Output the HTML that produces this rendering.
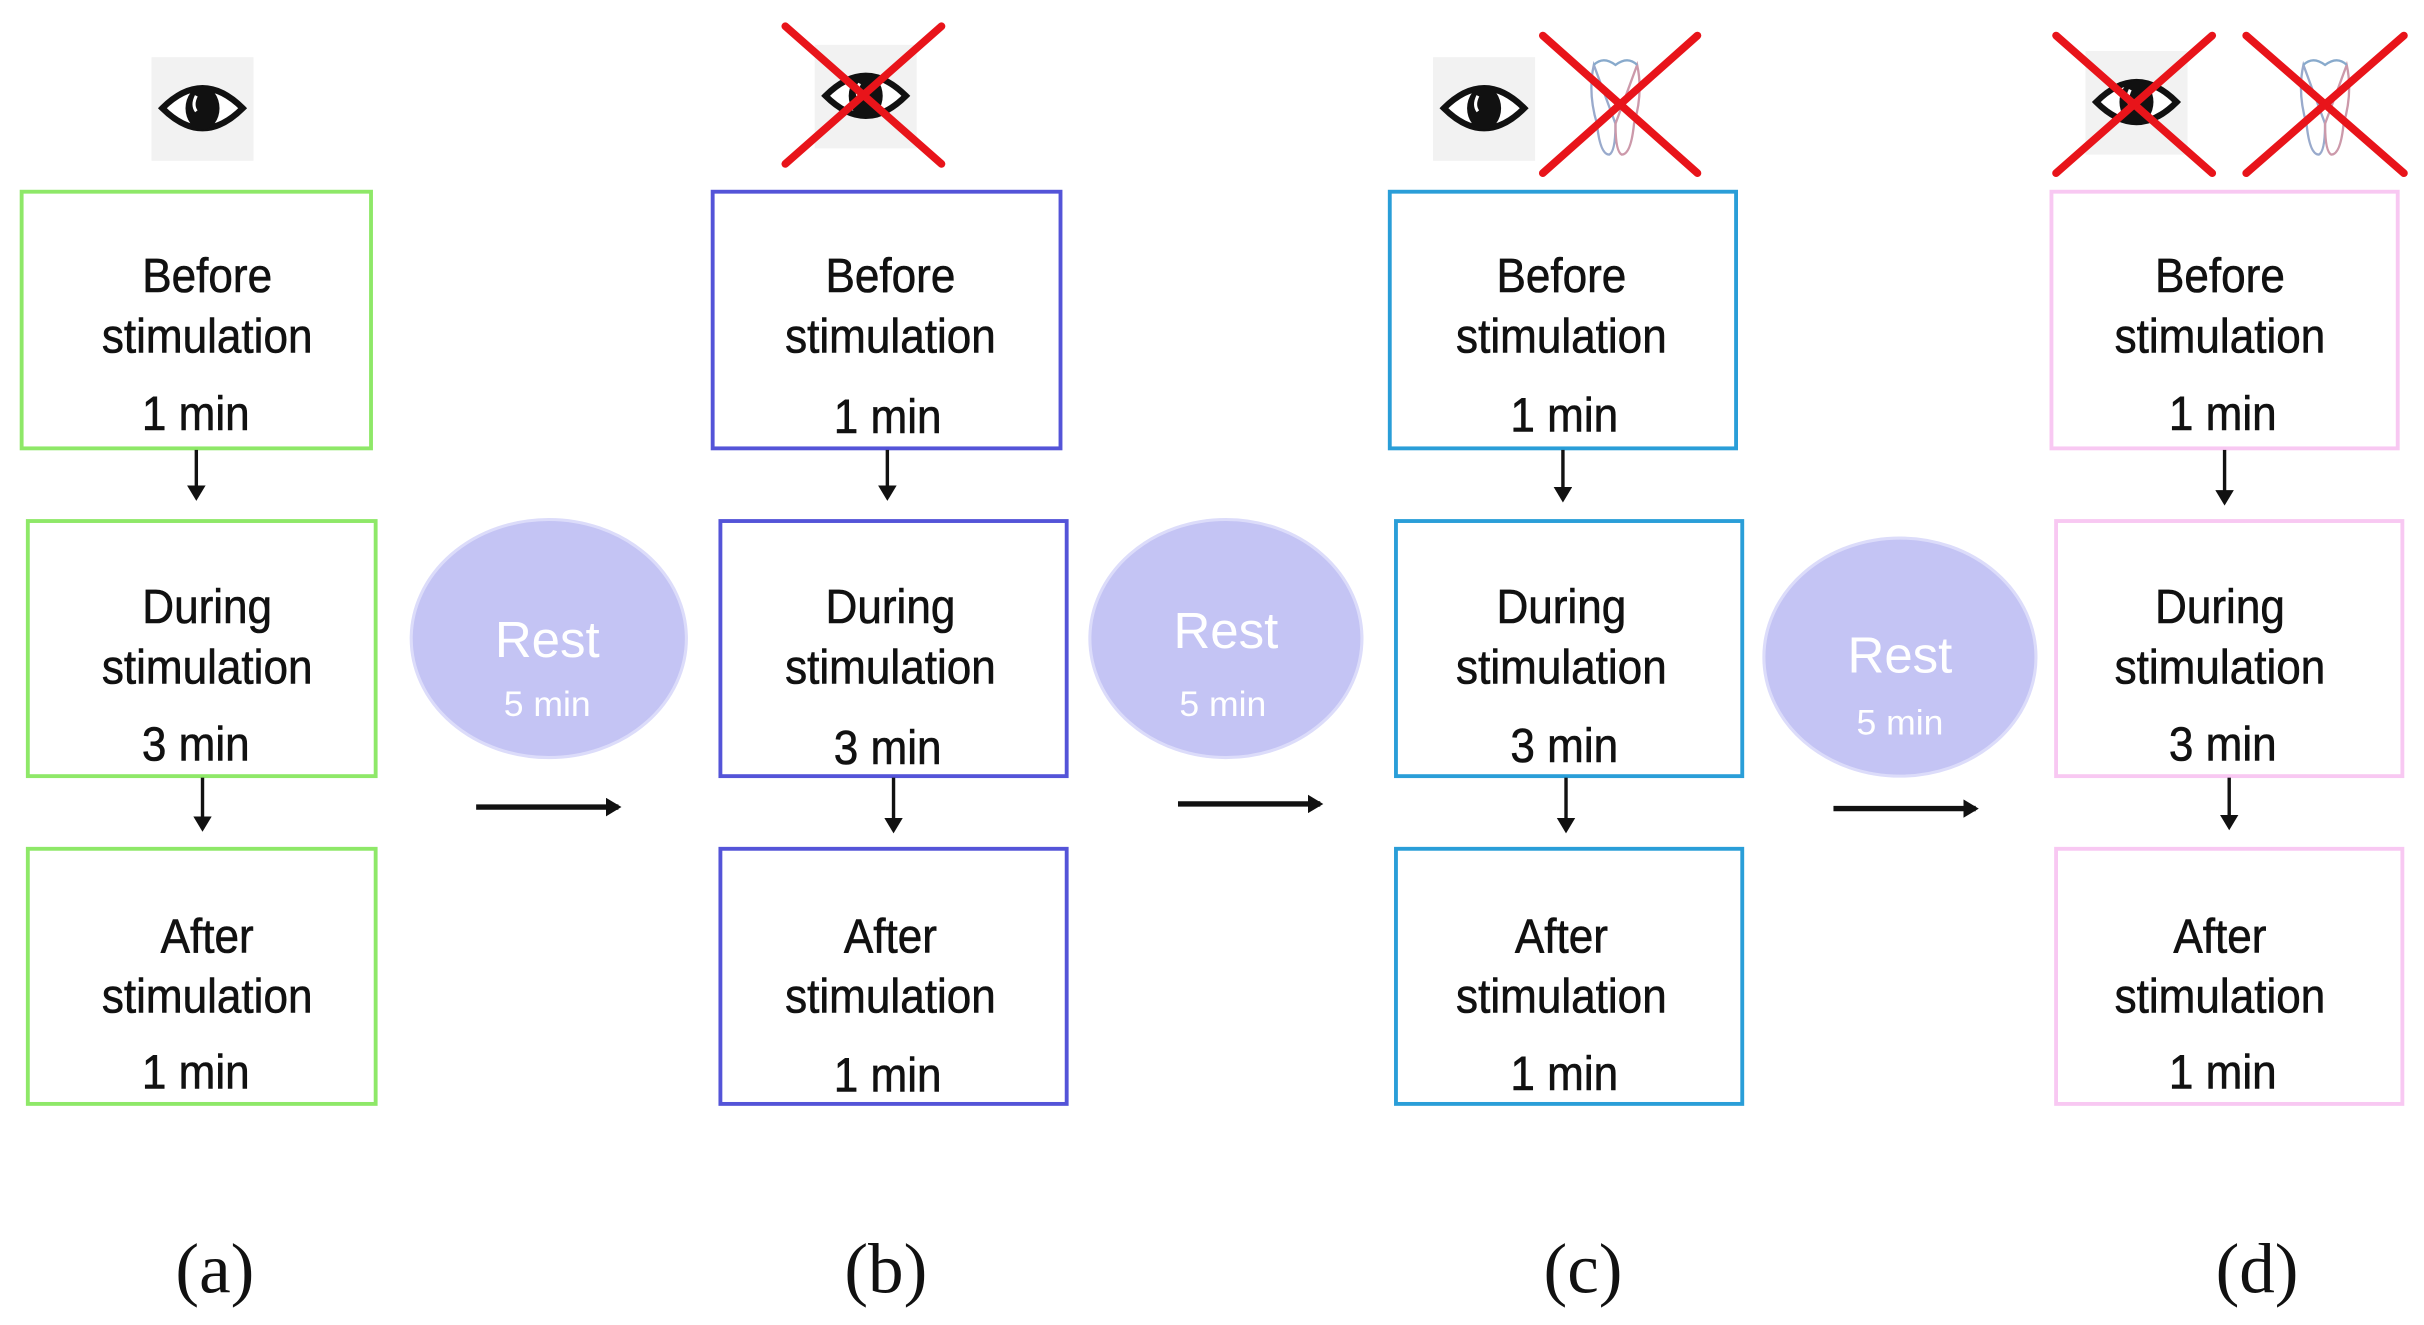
<!DOCTYPE html>
<html><head><meta charset="utf-8"><style>
html,body{margin:0;padding:0;background:#fff;}
svg{display:block}
.t{font-family:"Liberation Sans",Arial,sans-serif;font-size:31px;fill:#111;stroke:#111;stroke-width:0.4;text-anchor:middle}
.r{font-family:"Liberation Sans",Arial,sans-serif;fill:#fff;text-anchor:middle}
.l{font-family:"Liberation Serif","Times New Roman",serif;font-size:46px;fill:#111;text-anchor:middle}
</style></head><body>
<svg width="2424" height="1325" viewBox="0 0 1568 857" preserveAspectRatio="none" xmlns="http://www.w3.org/2000/svg">
<defs>
<marker id="ah" markerWidth="10" markerHeight="12" refX="8" refY="6" orient="auto" markerUnits="userSpaceOnUse">
<path d="M0,0 L10,6 L0,12 Z" fill="#111"/></marker>
<g id="eye">
<rect x="-33" y="-33" width="66" height="67" fill="#f2f2f2"/>
<path d="M-26,0 Q0,-26 26,0 Q0,26 -26,0 Z" fill="#fff" stroke="#111" stroke-width="4"/>
<ellipse cx="0" cy="0" rx="11" ry="14" fill="#111"/>
<path d="M-4,-8 Q-7,-2 -4,2" stroke="#fff" stroke-width="2" fill="none"/>
</g>
<g id="foot">
<path d="M-14,-28 Q-18,-10 -12,10 Q-10,30 -4,30 Q0,28 0,10 Z" fill="none" stroke="#9ac" stroke-width="1.5"/>
<path d="M14,-28 Q18,-10 12,10 Q10,30 4,30 Q0,28 0,10 Z" fill="none" stroke="#c9a" stroke-width="1.5"/>
<path d="M-14,-28 Q-8,-34 0,-28 Q8,-34 14,-28" fill="none" stroke="#8ac" stroke-width="1.5"/>
</g>
</defs>

<use href="#eye" x="131" y="70"/>
<use href="#eye" x="560" y="62"/>
<g stroke="#e8141a" stroke-width="5" stroke-linecap="round">
<line x1="508" y1="17" x2="609" y2="106"/><line x1="609" y1="17" x2="508" y2="106"/>
</g>
<use href="#eye" x="960" y="70"/>
<use href="#foot" x="1045" y="70"/>
<g stroke="#e8141a" stroke-width="5" stroke-linecap="round">
<line x1="998" y1="23" x2="1098" y2="112"/><line x1="1098" y1="23" x2="998" y2="112"/>
</g>
<use href="#eye" x="1382" y="66"/>
<use href="#foot" x="1504" y="70"/>
<g stroke="#e8141a" stroke-width="5" stroke-linecap="round">
<line x1="1330" y1="23" x2="1431" y2="112"/><line x1="1431" y1="23" x2="1330" y2="112"/>
<line x1="1453" y1="23" x2="1555" y2="112"/><line x1="1555" y1="23" x2="1453" y2="112"/>
</g>

<g fill="#fff" stroke-width="2.5">
<g stroke="#8ee868">
<rect x="14" y="124" width="226" height="166"/><rect x="18" y="337" width="225" height="165"/><rect x="18" y="549" width="225" height="165"/></g>
<g stroke="#5454d8">
<rect x="461" y="124" width="225" height="166"/><rect x="466" y="337" width="224" height="165"/><rect x="466" y="549" width="224" height="165"/></g>
<g stroke="#2a9ed8">
<rect x="899" y="124" width="224" height="166"/><rect x="903" y="337" width="224" height="165"/><rect x="903" y="549" width="224" height="165"/></g>
<g stroke="#f8c8f2">
<rect x="1327" y="124" width="224" height="166"/><rect x="1330" y="337" width="224" height="165"/><rect x="1330" y="549" width="224" height="165"/></g>
</g>

<g class="t">
<g transform="translate(134,0) scale(0.92,1)">
<text x="0" y="189">Before</text><text x="0" y="228">stimulation</text><text x="-8" y="278">1 min</text>
<text x="0" y="403">During</text><text x="0" y="442">stimulation</text><text x="-8" y="492">3 min</text>
<text x="0" y="616">After</text><text x="0" y="655">stimulation</text><text x="-8" y="704">1 min</text></g>
<g transform="translate(576,0) scale(0.92,1)">
<text x="0" y="189">Before</text><text x="0" y="228">stimulation</text><text x="-2" y="280">1 min</text>
<text x="0" y="403">During</text><text x="0" y="442">stimulation</text><text x="-2" y="494">3 min</text>
<text x="0" y="616">After</text><text x="0" y="655">stimulation</text><text x="-2" y="706">1 min</text></g>
<g transform="translate(1010,0) scale(0.92,1)">
<text x="0" y="189">Before</text><text x="0" y="228">stimulation</text><text x="2" y="279">1 min</text>
<text x="0" y="403">During</text><text x="0" y="442">stimulation</text><text x="2" y="493">3 min</text>
<text x="0" y="616">After</text><text x="0" y="655">stimulation</text><text x="2" y="705">1 min</text></g>
<g transform="translate(1436,0) scale(0.92,1)">
<text x="0" y="189">Before</text><text x="0" y="228">stimulation</text><text x="2" y="278">1 min</text>
<text x="0" y="403">During</text><text x="0" y="442">stimulation</text><text x="2" y="492">3 min</text>
<text x="0" y="616">After</text><text x="0" y="655">stimulation</text><text x="2" y="704">1 min</text></g>
</g>

<g stroke="#111" stroke-width="2.2" marker-end="url(#ah)">
<line x1="127" y1="291" x2="127" y2="322"/><line x1="131" y1="503" x2="131" y2="536"/>
<line x1="574" y1="291" x2="574" y2="322"/><line x1="578" y1="503" x2="578" y2="537"/>
<line x1="1011" y1="291" x2="1011" y2="323"/><line x1="1013" y1="503" x2="1013" y2="537"/>
<line x1="1439" y1="291" x2="1439" y2="325"/><line x1="1442" y1="503" x2="1442" y2="535"/>
</g>

<g fill="#c4c4f4" stroke="#dcdcfa" stroke-width="2">
<ellipse cx="355" cy="413" rx="89" ry="77"/>
<ellipse cx="793" cy="413" rx="88" ry="77"/>
<ellipse cx="1229" cy="425" rx="88" ry="77"/>
</g>
<g class="r">
<text x="354" y="425" font-size="33">Rest</text><text x="354" y="463" font-size="23">5 min</text>
<text x="793" y="419" font-size="33">Rest</text><text x="791" y="463" font-size="23">5 min</text>
<text x="1229" y="435" font-size="33">Rest</text><text x="1229" y="475" font-size="23">5 min</text>
</g>

<g stroke="#111" stroke-width="3.5" marker-end="url(#ah)">
<line x1="308" y1="522" x2="400" y2="522"/>
<line x1="762" y1="520" x2="854" y2="520"/>
<line x1="1186" y1="523" x2="1278" y2="523"/>
</g>

<g class="l">
<text x="139" y="836">(a)</text><text x="573" y="836">(b)</text><text x="1024" y="836">(c)</text><text x="1460" y="836">(d)</text>
</g>
</svg>
</body></html>
